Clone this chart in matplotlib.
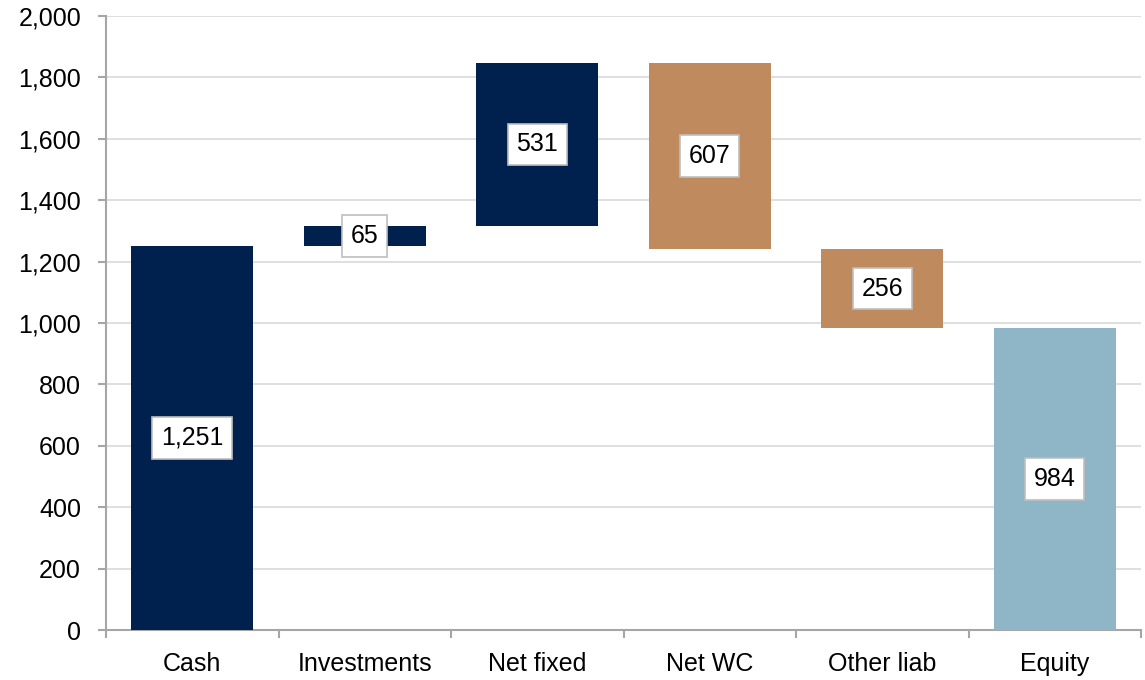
import matplotlib.pyplot as plt
from matplotlib.ticker import FuncFormatter, FixedLocator

plt.rcParams['font.family'] = ['Liberation Sans', 'DejaVu Sans']

categories = ["Cash", "Investments", "Net fixed", "Net WC", "Other liab", "Equity"]
values = [1251, 65, 531, 607, 256, 984]
# +1 goes up, -1 goes down, 0 starts from zero
direction = [0, 1, 1, -1, -1, 0]
colors = ["#00214D", "#00214D", "#00214D", "#BE8A5E", "#BE8A5E", "#8EB6C6"]


def waterfall_bottoms(values, direction):
    bottoms = []
    level = 0
    for v, d in zip(values, direction):
        if d == 0:
            bottoms.append(0)
            level = v
        elif d > 0:
            bottoms.append(level)
            level += v
        else:
            level -= v
            bottoms.append(level)
    return bottoms


bottoms = waterfall_bottoms(values, direction)

fig = plt.figure(figsize=(11.45, 6.8), dpi=100)
ax = fig.add_axes([106 / 1145, 50 / 680, (1141 - 106) / 1145, (630 - 16) / 680])

x = list(range(len(categories)))
ax.bar(x, values, bottom=bottoms, width=0.71, color=colors, zorder=3)

for xi, v, b in zip(x, values, bottoms):
    ax.text(xi, b + v / 2, f"{v:,}", ha="center", va="center", fontsize=18, zorder=4,
            bbox=dict(boxstyle="square,pad=0.35", facecolor="white", edgecolor="#BFBFBF", linewidth=1.2))

ax.set_xlim(-0.5, len(categories) - 0.5)
ax.set_ylim(0, 2000)
ax.set_yticks(range(0, 2001, 200))
ax.yaxis.set_major_formatter(FuncFormatter(lambda v, p: f"{int(v):,}"))
ax.yaxis.grid(True, color="#D9D9D9", linewidth=1.2, zorder=0)

ax.set_xticks(x)
ax.set_xticklabels(categories)
ax.xaxis.set_minor_locator(FixedLocator([i - 0.5 for i in range(len(categories) + 1)]))
ax.tick_params(axis="x", which="major", length=0, pad=16, labelsize=18)
ax.tick_params(axis="x", which="minor", length=6, color="#A6A6A6", width=1.5)
ax.tick_params(axis="y", length=6, color="#A6A6A6", width=1.5, labelsize=18, pad=12)

for side in ["top", "right"]:
    ax.spines[side].set_visible(False)
for side in ["left", "bottom"]:
    ax.spines[side].set_color("#A6A6A6")
    ax.spines[side].set_linewidth(1.5)

fig.savefig("out.png", dpi=100)
